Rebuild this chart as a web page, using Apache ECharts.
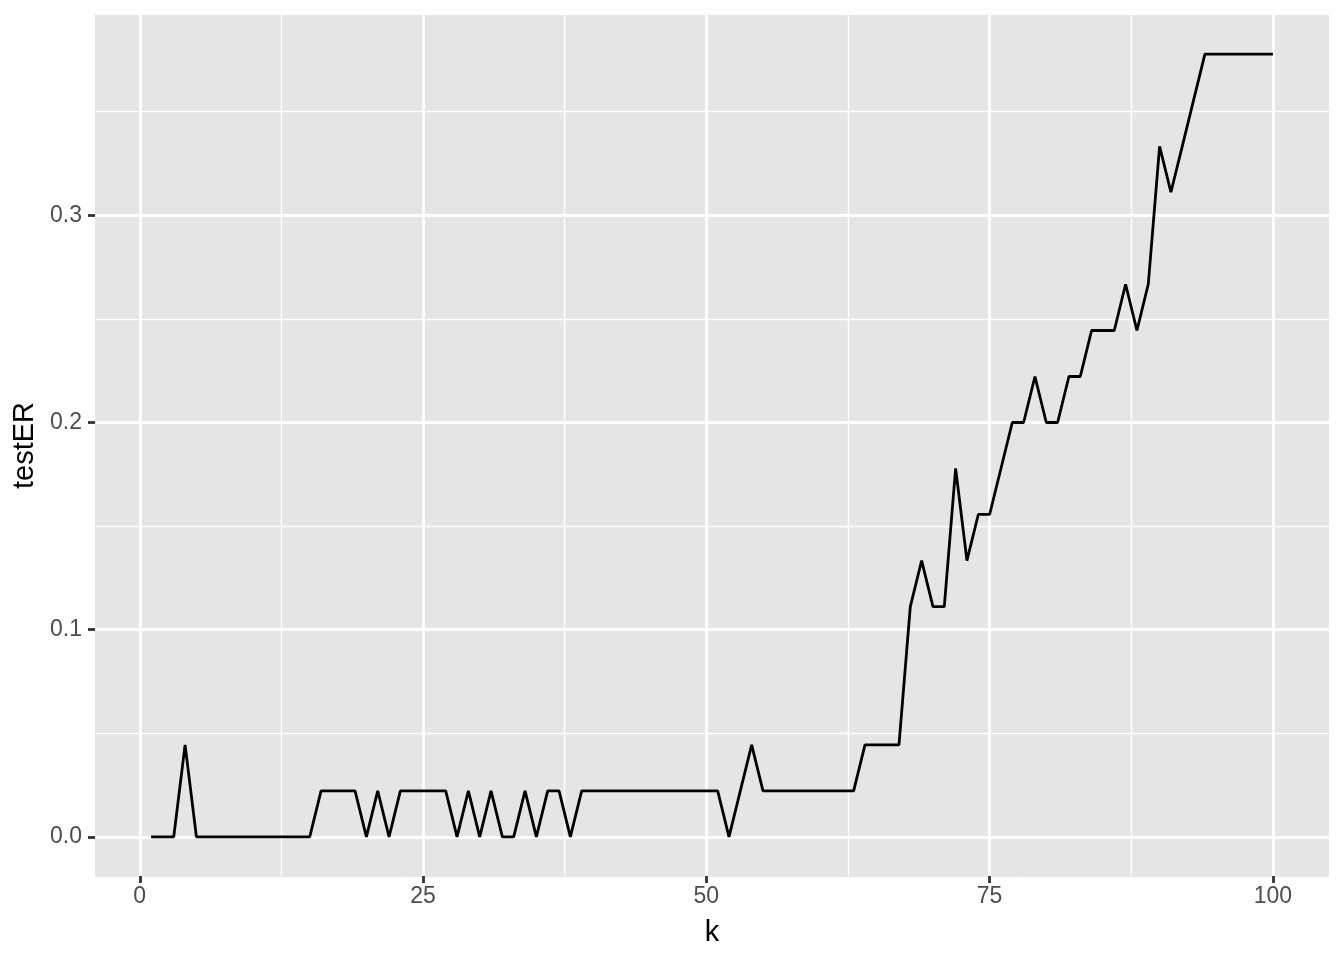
<!DOCTYPE html>
<html>
<head>
<meta charset="utf-8">
<script src="https://cdn.jsdelivr.net/npm/echarts@6/dist/echarts.min.js"></script>
<style>html,body{margin:0;padding:0;background:#fff;}#c{width:1344px;height:960px;}</style>
</head>
<body>
<div id="c"></div>
<script>
const kValues = [];
for (let i = 1; i <= 100; i++) kValues.push(i);
const testER = [
  0, 0, 0, 0.0444, 0, 0, 0, 0, 0, 0, 0, 0, 0, 0, 0,
  0.0222, 0.0222, 0.0222, 0.0222, 0, 0.0222, 0,
  0.0222, 0.0222, 0.0222, 0.0222, 0.0222, 0, 0.0222, 0, 0.0222, 0, 0,
  0.0222, 0, 0.0222, 0.0222, 0,
  0.0222, 0.0222, 0.0222, 0.0222, 0.0222, 0.0222, 0.0222, 0.0222, 0.0222, 0.0222, 0.0222, 0.0222, 0.0222,
  0, 0.0222, 0.0444,
  0.0222, 0.0222, 0.0222, 0.0222, 0.0222, 0.0222, 0.0222, 0.0222, 0.0222,
  0.0444, 0.0444, 0.0444, 0.0444,
  0.1111, 0.1333, 0.1111, 0.1111, 0.1778, 0.1333, 0.1556, 0.1556, 0.1778,
  0.2, 0.2, 0.2222, 0.2, 0.2, 0.2222, 0.2222, 0.2444, 0.2444, 0.2444,
  0.2667, 0.2444, 0.2667, 0.3333, 0.3111, 0.3333, 0.3556,
  0.3778, 0.3778, 0.3778, 0.3778, 0.3778, 0.3778, 0.3778
];
const xMajorTicks = [0, 25, 50, 75, 100];
const xMinorTicks = [12.5, 37.5, 62.5, 87.5];
const yMajorTicks = [0, 0.1, 0.2, 0.3];
const yMinorTicks = [0.05, 0.15, 0.25, 0.35];
const xLabelText = ['0', '25', '50', '75', '100'];
const yLabelText = ['0.0', '0.1', '0.2', '0.3'];

const X_MIN = -3.95, X_MAX = 104.95;
const Y_MIN = -0.018889, Y_MAX = 0.396667;

const FONT = '"Liberation Sans", Arial, Helvetica, sans-serif';

const chart = echarts.init(document.getElementById('c'), null, {renderer: 'canvas'});
const data = kValues.map((k, i) => [k, testER[i]]);

const labelFmtX = v => { const i = xMajorTicks.indexOf(v); return i >= 0 ? xLabelText[i] : ''; };
const labelFmtY = v => { let idx = -1; yMajorTicks.forEach((t, i) => { if (Math.abs(t - v) < 1e-9) idx = i; }); return idx >= 0 ? yLabelText[idx] : ''; };

chart.setOption({
  animation: false,
  backgroundColor: '#ffffff',
  grid: {
    left: 95, right: 15, top: 15, bottom: 84,
    show: true, backgroundColor: '#E5E5E5', borderWidth: 0
  },
  xAxis: [
    {
      type: 'value', min: X_MIN, max: X_MAX,
      name: 'k', nameLocation: 'middle', nameGap: 42,
      nameTextStyle: {fontFamily: FONT, fontSize: 29, color: '#000000'},
      axisLine: {show: true, onZero: false, lineStyle: {color: '#E5E5E5', width: 1}},
      axisTick: {show: true, inside: false, customValues: xMajorTicks, length: 7, lineStyle: {color: '#333333', width: 2.8}},
      axisLabel: {show: true, customValues: xMajorTicks, formatter: labelFmtX, margin: 9, fontFamily: FONT, fontSize: 23, color: '#4D4D4D'},
      splitLine: {show: true, lineStyle: {color: '#ffffff', width: 2.8}},
      minorSplitLine: {show: false}
    },
    {
      type: 'value', min: X_MIN, max: X_MAX, position: 'bottom',
      axisLine: {show: false, onZero: false},
      axisTick: {show: false, customValues: xMinorTicks},
      axisLabel: {show: false, customValues: xMinorTicks},
      splitLine: {show: true, lineStyle: {color: '#ffffff', width: 1.4}}
    }
  ],
  yAxis: [
    {
      type: 'value', min: Y_MIN, max: Y_MAX,
      name: 'testER', nameLocation: 'middle', nameGap: 52, nameRotate: 90,
      nameTextStyle: {fontFamily: FONT, fontSize: 29, color: '#000000'},
      axisLine: {show: true, onZero: false, lineStyle: {color: '#E5E5E5', width: 1}},
      axisTick: {show: true, inside: false, customValues: yMajorTicks, length: 7, lineStyle: {color: '#333333', width: 2.8}},
      axisLabel: {show: true, customValues: yMajorTicks, formatter: labelFmtY, margin: 13, fontFamily: FONT, fontSize: 23, color: '#4D4D4D'},
      splitLine: {show: true, lineStyle: {color: '#ffffff', width: 2.8}}
    },
    {
      type: 'value', min: Y_MIN, max: Y_MAX, position: 'left',
      axisLine: {show: false, onZero: false},
      axisTick: {show: false, customValues: yMinorTicks},
      axisLabel: {show: false, customValues: yMinorTicks},
      splitLine: {show: true, lineStyle: {color: '#ffffff', width: 1.4}}
    }
  ],
  series: [{
    type: 'line',
    xAxisIndex: 0, yAxisIndex: 0,
    data: data,
    showSymbol: false,
    symbol: 'none',
    lineStyle: {color: '#000000', width: 2.8},
    itemStyle: {color: '#000000'},
    z: 5
  }]
});
</script>
</body>
</html>
